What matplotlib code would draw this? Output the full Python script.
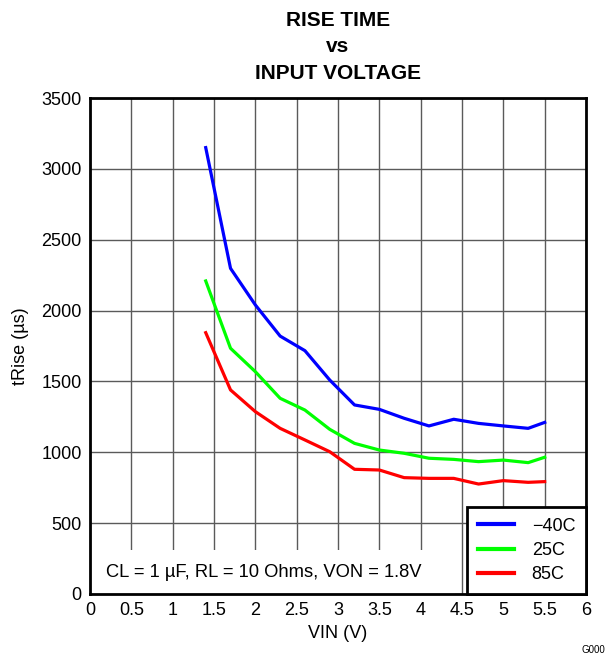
import numpy as np
import matplotlib.pyplot as plt
from matplotlib.patches import Rectangle

plt.rcParams['font.family'] = ['Liberation Sans', 'DejaVu Sans']

# ---- data ----
vin = [1.4, 1.7, 2.0, 2.3, 2.6, 2.9, 3.2, 3.5, 3.8, 4.1, 4.4, 4.7, 5.0, 5.3, 5.5]
t_m40 = [3150, 2298, 2040, 1820, 1717, 1510, 1334, 1303, 1240, 1186, 1233, 1204, 1186, 1169, 1211]
t_25 = [2209, 1734, 1569, 1381, 1298, 1162, 1063, 1016, 993, 958, 950, 934, 945, 927, 965]
t_85 = [1844, 1440, 1287, 1169, 1087, 1004, 880, 875, 821, 816, 816, 776, 800, 788, 793]

labels = ['\u221240C', '25C', '85C']
colors = ['#0000ff', '#00ff00', '#ff0000']

x_ticks = np.arange(0, 6.01, 0.5)
y_ticks = np.arange(0, 3501, 500)

FS = 13

# ---- figure ----
fig = plt.figure(figsize=(6.1, 6.6), dpi=100)
ax = fig.add_axes([0.1475, 0.1, 0.8132, 0.7515])

for series, lab, col in zip([t_m40, t_25, t_85], labels, colors):
    ax.plot(vin, series, color=col, lw=2.3, label=lab, zorder=3,
            solid_joinstyle='round')

ax.set_xlim(0, 6)
ax.set_ylim(0, 3500)
ax.set_xticks(x_ticks)
ax.set_xticklabels([f'{v:g}' for v in x_ticks])
ax.set_yticks(y_ticks)
ax.tick_params(length=0, labelsize=FS, pad=6)
ax.grid(True, color='#5a5a5a', lw=1.0)

for s in ax.spines.values():
    s.set_linewidth(2)

# white area behind the note (covers grid lines)
ax.add_patch(Rectangle((0, 0), 0.736, 0.089, transform=ax.transAxes,
                       facecolor='white', edgecolor='none', zorder=2))
ax.text(0.033, 0.043, 'CL = 1 \u00b5F, RL = 10 Ohms, VON = 1.8V',
        transform=ax.transAxes, fontsize=13.2, va='center', ha='left', zorder=2.5)

leg = ax.legend(loc='lower right', fontsize=FS, fancybox=False,
                framealpha=1, edgecolor='black', borderaxespad=0,
                handlelength=2.0, handletextpad=1.0, borderpad=0.6,
                labelspacing=0.4)
leg.get_frame().set_linewidth(2)
leg.set_zorder(4)
for line in leg.get_lines():
    line.set_linewidth(3)

ax.set_xlabel('VIN (V)', fontsize=FS, labelpad=4)
ax.set_ylabel('tRise (\u00b5s)', fontsize=FS, labelpad=9)
ax.set_title('RISE TIME\nvs\nINPUT VOLTAGE', fontsize=15, fontweight='bold',
             linespacing=1.5, pad=14)

fig.text(0.992, 0.008, 'G000', fontsize=7, ha='right', va='bottom')

fig.savefig('out.png', dpi=100)
